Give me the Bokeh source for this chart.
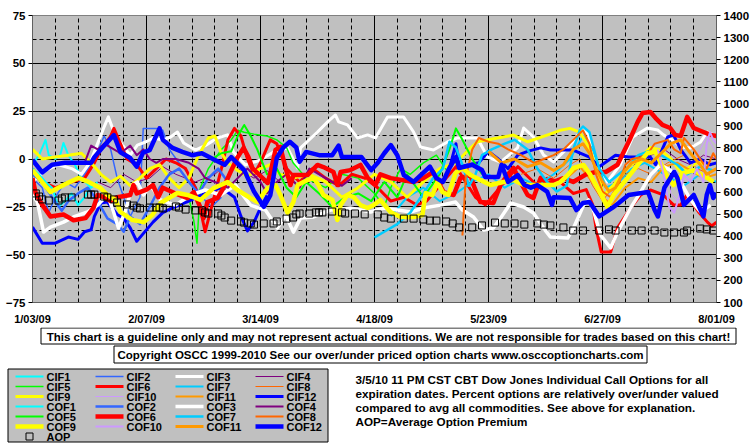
import math
from bokeh.plotting import figure
from bokeh.models import Range1d, LinearAxis, FixedTicker, ColumnDataSource
from bokeh.layouts import column
from bokeh.embed import file_html
from bokeh.resources import INLINE
from bokeh.core.properties import value

NaN = float("nan")

# ---------------- data ----------------
XTICK_DAYS = [0, 35, 70, 105, 140, 175, 210]          # days since 1/03/09
XTICK_LABELS = ["1/03/09", "2/07/09", "3/14/09", "4/18/09", "5/23/09", "6/27/09", "8/01/09"]
YTICKS_LEFT = [-75, -50, -25, 0, 25, 50, 75]
YTICKS_RIGHT = [100, 200, 300, 400, 500, 600, 700, 800, 900, 1000, 1100, 1200, 1300, 1400]

# (day, percent) pairs
CIF1 = [(0, -3), (2, 2), (3, 6), (4, 10), (5, 2), (7, 0), (8.5, 2), (9.5, 8.4), (11, 2), (13, -3), (15, -10), (18, -15), (20, -12)]
CIF2 = [(0, -10), (3, -15), (5, -28), (7, -20), (10, -12), (13, -15), (16, -8), (19, 0), (22, 12), (24, 5), (26, -10), (28, -20),
        (30, -30), (33, -20), (34, 16), (38, 16), (40, 15), (42, 5), (45, -2), (48, -8), (52, -20), (55, -25), (58, -20)]
CIF3 = [(0, -12), (4, -6), (8, -3), (12, -5), (15, -8), (17.8, -1.5), (21.8, 16), (23.3, 22), (24.6, 16), (26.4, 10), (30, 2), (32.2, 7.3),
        (34.7, 8.9), (37.2, 11), (39.9, 9.9), (42.4, 11.5), (44.5, 14.1), (46.4, 8.4), (50, 4.7), (53, 7), (56.8, 11), (59.9, 12.6),
        (61.7, 3.7), (65.4, -3.1), (70, -0.5), (74, 3.7), (78.3, 5.8), (81.4, -4.7), (82.3, 5.8), (87.5, 14.1), (90.6, 19.4), (93, 23),
        (94, 19.4), (96.7, 17.8), (99.8, 11), (102.9, 12.6), (105.3, 11), (109, 22), (113.9, 22), (117, 14.1), (119.1, 6.3), (123.1, 4.7),
        (127.4, 8.9), (130.5, 11), (136.6, 11), (139.7, 1), (143.7, -1.6), (148.9, 5.8), (150.8, 16.2), (153.8, 11.5), (156.9, 2.1),
        (160, -1.6), (162.1, 2.1), (164.3, 5.8), (169.2, 16.2), (170.7, 12.6), (172.2, 2.1), (176.5, -12), (180.4, -3.1), (184.3, 11.5),
        (188.8, 16.2), (191.9, 15.2), (193.7, 12.6), (196.5, 9.9), (199, 6.3), (202, 5.8), (205.1, 8.9), (207.2, 14.1), (209.1, 12.6)]
CIF4 = [(20, -12), (24, -15), (28, -8), (32, -12), (36, -10), (40, -4), (44, -8), (50, -12), (56, -8), (60, -2), (64, -6), (68, -10),
        (72, -6), (76, -12), (NaN, NaN), (182, -5), (186, -2), (190, 2), (194, 5), (198, 0), (202, -3), (206, 2), (210, 0)]
CIF5 = [(48, -20), (49.5, -32), (50.5, -44), (51.5, -15), (54, -5), (58, 5), (61, 10), (63, 15), (65, 14), (68, 13), (72, 12), (75, 10),
        (78, 6), (80, -2), (84, -10), (90, -15), (95, -8), (100, -10), (105, -18), (108, -25), (110, -15), (113, -5), (116, -8), (120, -2),
        (124, 2), (128, -8)]
CIF6 = [(0, -5), (3, -12), (7, -15), (12, -12), (16, -10), (19, -2), (21, 5), (24, 12), (25, 16), (27, 8), (29, 0), (32, -3), (35, -10),
        (38, -5), (41, 0), (44, -2), (47, -5), (50, -15), (52, -30), (53, -38), (55, -25), (58, -5), (60, 10), (62, 16), (64, 12), (66, 0),
        (68, -8), (70, -2), (73, 10), (75, 8), (78, -5), (82, -12), (86, -5), (90, -10), (94, -14), (98, -8), (102, -10), (106, -15),
        (110, -22), (114, -20), (118, -24), (121, -22), (124, -16), (127, -10), (130, -4), (133, -12), (136, -20), (139, -24), (142, -18),
        (146, -10), (149, -4), (152, -9), (155, -14), (158, -10), (162, -12), (166, -18), (170, -16), (172, -24), (173, -36), (174.6, -48.6),
        (177.5, -48.6), (179.6, -36), (183.6, -25.6), (186.7, -18.8), (189.7, -16.2), (193.7, -18.8), (196.8, -24), (199, -24),
        (200.9, -18.8), (204.5, -27.7), (207.2, -33), (208.5, -35), (210, -33)]
CIF7 = [(110, -30), (115, -20), (120, -15), (125, -22), (130, -18), (135, -12), (140, -8), (145, -15), (150, -10), (155, -14), (160, -8),
        (165, 0), (169, 12), (172, 5), (176, -15), (180, -12), (184, -5), (188, -2), (192, -6), (196, -10), (200, -14), (205, -8), (210, -12)]
CIF8 = [(150, -8), (155, -5), (160, -10), (165, -3), (168, 0), (172, -14), (175, -22), (178, -15), (182, -8), (186, -5), (190, -8),
        (195, -2), (200, 2), (204, -5), (208, -8)]
CIF9 = [(0, 5), (3, 0), (7, 1), (11, 2), (15, 3), (18, -2), (21, -8), (24, -12), (27, -9), (30, -14), (33, -10), (36, -5), (39, -3),
        (42, -10), (45, -15), (48, -10), (51, 2), (54, 11), (56, 12), (58, 3), (60, -2), (63, -6), (66, -9), (70, -5), (73, -3), (76, -8),
        (80, -10), (85, -8), (90, -12), (95, -20), (100, -15), (105, -8), (110, -12), (115, -20), (120, -12), (125, -5), (130, -2), (134, 5),
        (136.6, 9), (142.8, 11), (147.7, 12.5), (152, 9), (158, 12.5), (162, 15), (165, 16), (168, 14), (171, 5.8), (173.5, -6.8),
        (175.3, -19), (178.4, -13.6), (182, -6), (186.7, 1), (189.7, 6), (192.8, 4.7), (195.8, 0.5), (199, -6.8), (204, -2), (209, -3)]
CIF10 = [(193, 0), (195, -8), (196, -18), (198, -22), (200, -10), (203, -2), (205, 5), (207, 12), (209, 6), (210, 3)]
CIF11 = [(160, -14), (164, -10), (168, -4), (172, -12), (175, -20), (178, -24), (182, -15), (186, -10), (190, -12), (194, -4), (198, -2),
         (202, -6), (206, -10), (210, -8)]
CIF12 = [(0, -35.6), (3, -44), (7, -44), (11, -40.8), (14, -42), (16, -38), (18, -37), (19, -30), (21, -23), (23, -22.5), (26, -29),
         (28, -31), (30, -36), (32, -43), (34, -39), (37, -33), (40, -28), (43, -25.6), (48, -22), (53, -18), (58, -15), (62, -20), (64, -30),
         (66, -37.6), (68, -33), (70, -25.6), (72, -19), (NaN, NaN), (128, -5), (130, 8), (131, -4), (134, -3), (137, -2), (140, 4), (143, 0),
         (146, -5), (149, 2), (152, 4), (156, 5.8), (159, 4.7), (163, 4.7), (166, 4.7), (171, 1), (174, -4), (179, 2), (183, 1), (189.7, 1),
         (191.3, -3), (193, 3.7), (195, 11.5), (196.8, 12.6), (199, 5), (202, -2), (205, 0), (208, -3), (210, -2)]

COF1 = [(0, -5), (2, -8), (4, -12), (6, -15), (8, -25), (10, -22), (12, -18), (14, -24), (16, -20), (18, -14)]
COF2 = [(0, -8), (3, -12), (6, -20), (9, -27), (11, -22), (14, -18), (17, -15), (20, -22), (23, -31), (26, -34), (28, -38), (30, -30),
        (33, -34), (36, -25), (39, -15), (42, -8), (45, -5), (48, -12), (51, -18), (54, -10), (57, -5), (60, -12)]
COF3 = [(0, -18.8), (1.5, -22.5), (3.4, -38.2), (5.5, -35.6), (9.5, -33), (12.6, -30.3), (16.9, -27.7), (20, -24.1), (23, -18.8),
        (24.9, -27.7), (26.4, -36.1), (28.6, -26.7), (30.7, -13.6), (32.2, -12), (34.1, -18.8), (36.2, -13.6), (39.3, -21.4), (43.9, -24.1),
        (48.5, -18.8), (53.1, -16.2), (57.7, -18.8), (62.3, -13.6), (66.9, -24.1), (71.5, -26.7), (75.2, -36.1), (77.7, -29.3), (80.1, -38.2),
        (82.3, -30.9), (86.3, -30.3), (91.5, -26.7), (97.6, -25.6), (103.8, -27.7), (107.8, -25.6), (112.1, -26.7), (116.1, -27.7),
        (120, -25.6), (125.3, -24.1), (129.9, -22.5), (132, -26.7), (135.4, -30.3), (138.5, -37.1), (141.5, -36.1), (143.7, -30.9),
        (146.8, -23), (150.8, -25.1), (153.8, -28.2), (156.9, -36.1), (159, -40.8), (164.3, -41.3), (166.1, -36.1), (169.2, -24.1),
        (170.7, -21.4), (172.2, -26.7), (174.4, -39.7), (177.5, -46.5), (179.6, -38.2), (183.6, -25.6), (186.7, -17.3), (189.7, -8.4),
        (192.8, -3.1), (195.8, -5.8), (199, -12), (202, -21.4), (205.1, -27.7), (208.2, -24.1)]
COF4 = [(16, -2), (18, 7), (20, 5), (22, 8), (25, 5), (27, 3), (30, 7), (32, 2), (34, 5), (36, 0), (38, -2), (40, 0), (44, 0), (48, -2),
        (51, -5), (53, -10), (56, -12), (60, -15), (63, -10), (66, -5), (70, -12), (72, -18), (75, -12), (78, -8), (82, -15), (85, -5),
        (88, -8), (92, -12), (95, -14), (98, -10)]
COF5 = [(55, 0), (58, 3), (61, 4), (63, 12), (65, 17.8), (67, 12), (69, 5), (72, -8), (75, -5), (78, -15), (81, -20), (84, -12), (88, -18),
        (92, -25), (96, -20), (100, -18), (104, -22), (108, -12), (112, -20), (115, -8), (120, -20), (125, -8), (128, 5), (130, 16), (132, 10),
        (135, 0), (138, -8)]
COF6 = [(0, -10), (1, -18), (3, -24), (5.5, -30), (9.5, -29), (12.6, -32), (16.3, -30.9), (18.7, -25.6), (20, -18.8), (22, -20), (24, -22),
        (26, -20), (30, -18.8), (31, -13.6), (32, -18), (35, -16), (37, -13.6), (38.6, -20), (40, -15), (45, -18.8), (47.6, -20.4),
        (49.5, -17.3), (51.6, -25.6), (52.5, -31), (53.7, -22.5), (56.8, -20.4), (58.6, -15.2), (60.8, -6.8), (63, 1), (64.8, 5.8), (66.3, 1),
        (67.5, -4.7), (72.2, -12.6), (73.1, -6.8), (74.6, 4.7), (76.1, 6.3), (77.7, -4.7), (79.2, -13.6), (80.1, -8.4), (84.4, -8.4),
        (87.5, -3.1), (89.3, -4.2), (92.4, -6.8), (93.6, -13.6), (94.6, -6.8), (97.6, -5.8), (100.7, -3.1), (102.9, -9.9), (105.3, -13.6),
        (106.8, -8), (110, -10), (117, -12), (120, -10), (123, -6.8), (126.2, -17.3), (129.3, -18.8), (131.4, -9.9), (134.5, -8.4),
        (135.4, -13.6), (137.5, -22.5), (141.5, -23), (143.7, -13.6), (145.8, -8.4), (147.7, -4.7), (149.8, -12), (152, -18.8),
        (153.8, -20.4), (156, -9.9), (158, -12.6), (160, -12), (163, -10), (166, -12), (170, -8), (173, -6.8), (176, -6.8), (179.6, -3),
        (183.6, 11), (185.8, 19.4), (187.3, 24), (189.7, 24.6), (191.3, 21.4), (193.4, 17.8), (195.8, 16.2), (197.3, 12.6), (199, 12),
        (201, 22), (203, 16.2), (206, 14.1), (208.2, 12.6), (210, 12)]
COF7 = [(105, -41), (108, -38), (112, -34), (116, -28), (120, -18), (123, -10), (126, -5), (128, 9), (130, 6), (132, -3), (134, -14),
        (136, -8), (138, 2), (141, 5), (145, 8), (148, 10), (152, 5), (155, -5), (158, -12), (161, -17), (164, -14), (166, 5), (168, 15),
        (169, 17), (171, 14), (174, -5), (177, -12), (180, -8), (183, -4), (186, 2), (189, 4), (192, 3), (195, 0), (198, -3), (201, -8),
        (205, -4), (209, -6)]
COF8 = [(132, -40), (133, -10), (135, 5), (137, 11), (140, 9), (143, 8), (146, 5), (150, 2), (154, -2), (157, 0), (160, 2), (163, 5),
        (166, 10), (169, 15), (171, 8), (173, -8), (175, -17), (177.5, -20), (180, -13), (182, -3), (184, 0), (187, 1), (189, 3), (191, 8),
        (195, 10), (197, 5), (199, 3), (200, 11), (203, 5), (207, -5), (209, 3), (210, 0)]
COF9 = [(0, -5.8), (5.5, -17.3), (10.7, -12.6), (14.1, -9.9), (17.2, -12), (20.9, -15.2), (23, -18.8), (25.5, -21.4), (27, -27.7),
        (30.7, -31.9), (34.1, -33), (36.8, -29.3), (39.3, -23), (44.5, -17.8), (47.6, -18.8), (51.6, -21.4), (55.6, -15.2), (59.9, -12),
        (62.9, -16.2), (66.9, -20.4), (69.1, -22.5), (70.6, -18.8), (72.2, -15.2), (74.6, -13.6), (76.1, -18.8), (78.3, -28.2), (80.1, -22.5),
        (81.4, -13.6), (84.4, -11), (86.3, -9.9), (87.8, -13.6), (89.3, -18.8), (92.1, -21.4), (93.6, -31.9), (94.6, -24.1), (96.7, -18.8),
        (98.6, -19.9), (100.7, -24.1), (102.9, -25.6), (104.7, -24.1), (106.8, -21.4), (109.9, -27.7), (113, -30.3), (117, -30.3),
        (119.7, -29.3), (120.7, -17.8), (122.8, -18.8), (124.3, -12), (125.9, -17.3), (127.7, -18.8), (129.9, -7.3), (132, -4.7),
        (134.5, -8.4), (137.5, -11), (140.6, -13.6), (144.6, -12), (147.7, -11), (150.8, -13.6), (156, -13.6), (160, -13.6), (162.1, -12),
        (164.3, -8.4), (166.1, -4.7), (169.2, -3.1), (171.3, -8.4), (173.5, -15.2), (176.5, -25.1), (178.4, -18.8), (182.7, -9.9),
        (185.8, -3.1), (188.8, 3.1), (191.3, 3.7), (193.4, -4.2), (195, -9.4), (196.8, -13.6), (199.9, -7.3), (203, -5.8), (207.2, -9.9),
        (209.1, -12)]
COF10 = [(192, 5), (194, -10), (195.5, -25), (197, -28), (198.5, -20), (200, -8), (202, -12), (204, -5), (206, -12), (207, 8), (208, 14),
         (209, 10), (210, 8)]
COF11 = [(140, 4), (144, -2), (148, 0), (152, -4), (156, -2), (160, -6), (163, -3), (166, 5), (169, 8), (171, 3), (173, -5), (175, -12),
         (177, -17), (179, -15), (181, -8), (184, -2), (187, 0), (190, -2), (193, 3), (196, 8), (199, 10), (202, 3), (205, -3), (207, -8),
         (210, -5)]
COF12 = [(0, -0.5), (3, -7), (6, -3), (10, -2), (18, -2), (19, 1), (22, 7), (25, 12.5), (27, 3.5), (30, 0.5), (32, -4), (34, 3.5),
         (36, 4.7), (39, 16), (40, 10), (43, 5.8), (46, 3.7), (49, 2), (52, 3), (56, -0.5), (59, -3), (61, 1), (65, -5.8), (68, -17),
         (71, -25), (73, -19), (75, 0.5), (77, 6), (79, 9), (81, 6), (82, -1.5), (84, 3.7), (88, 2), (92, 2), (94, 7), (95, 1), (101, 1),
         (104, -5.8), (106, -2), (108, 3), (110, 7.3), (112, 2), (114, -8.4), (117, -12), (122, -4), (124, -10), (126, -12), (128, -4.7),
         (130, 1), (131, -4.7), (135, -3), (138, -5.8), (139, -9.4), (143, -9.4), (144, -3), (146, -12), (149, -8.4), (151, -13.6),
         (153, -15), (155, -13.6), (158, -17), (159.5, -24), (160, -20), (165, -20.4), (167, -26.7), (169, -23), (171, -22.5), (174, -30),
         (178, -25.6), (180, -23), (183, -18.8), (187, -17.8), (189, -17.3), (191, -26.7), (192, -30), (194, -15), (197, -6.8), (198, -10),
         (200, -24), (203, -18.8), (206, -30), (207, -18.8), (208, -13.6), (209, -20.4), (210, -17.8)]

# Average option premium (right axis), (day, premium)
AOP = [(1, 594), (2, 580), (3, 567), (5, 562), (8, 562), (9, 571), (10, 576), (12, 576), (17, 589), (18, 589), (19, 589), (22, 580),
       (23, 576), (25, 567), (26, 553), (29, 544), (31, 539), (32, 530), (33, 526), (36, 530), (38, 530), (39, 530), (40, 526), (44, 535),
       (45, 530), (47, 521), (50, 517), (52, 517), (53, 508), (54, 503), (57, 503), (58, 494), (59, 485), (61, 471), (64, 467), (65, 462),
       (67, 458), (68, 453), (71, 458), (74, 458), (75, 467), (78, 480), (80, 485), (81, 499), (82, 503), (85, 503), (87, 508), (88, 508),
       (89, 508), (92, 512), (95, 508), (96, 503), (99, 503), (102, 499), (106, 499), (108, 485), (110, 480), (114, 480), (117, 480),
       (120, 476), (122, 471), (124, 471), (127, 467), (129, 458), (131, 440), (135, 440), (138, 449), (142, 462), (145, 458), (148, 458),
       (151, 453), (155, 458), (157, 453), (159, 449), (163, 440), (166, 426), (169, 426), (174, 426), (177, 431), (179, 426), (184, 426),
       (187, 426), (191, 426), (194, 417), (197, 417), (200, 417), (201, 426), (205, 435), (207, 431), (209, 426)]

SERIES_NAMES = ["CIF1", "CIF2", "CIF3", "CIF4", "CIF5", "CIF6", "CIF7", "CIF8", "CIF9", "CIF10", "CIF11", "CIF12",
                "COF1", "COF2", "COF3", "COF4", "COF5", "COF6", "COF7", "COF8", "COF9", "COF10", "COF11", "COF12"]
SERIES_DATA = [CIF1, CIF2, CIF3, CIF4, CIF5, CIF6, CIF7, CIF8, CIF9, CIF10, CIF11, CIF12,
               COF1, COF2, COF3, COF4, COF5, COF6, COF7, COF8, COF9, COF10, COF11, COF12]

NOTE1 = "This chart is a guideline only and may not represent actual conditions. We are not responsible for trades based on this chart!"
NOTE2 = "Copyright OSCC 1999-2010 See our over/under priced option charts www.osccoptioncharts.com"
DESC = ["3/5/10 11 PM CST CBT Dow Jones Individual Call Options for all",
        "expiration dates. Percent options are relatively over/under valued",
        "compared to avg all commodities. See above for explanation.",
        "AOP=Average Option Premium"]

# ---------------- styles ----------------
BASE_COLORS = ["#00FFFF", "#3366FF", "#FFFFFF", "#800080", "#00FF00", "#FF0000",
               "#00CCFF", "#FF6600", "#FFFF00", "#CC99FF", "#FF9900", "#0000FF"]
CIF_WIDTHS = [2, 1.5, 3, 1, 1.5, 3, 2, 1, 3, 1, 2, 3]
COF_WIDTHS = [2, 2.5, 3.5, 2, 2, 4.5, 2.5, 2, 4.5, 2, 3, 4.5]
COLORS = BASE_COLORS + BASE_COLORS
WIDTHS = CIF_WIDTHS + COF_WIDTHS

FONT = "Liberation Sans"

W = 753
H1 = 327
H2 = 117

# ---------------- main chart ----------------
p = figure(width=W, height=H1, x_range=Range1d(0, 210), y_range=Range1d(-75, 75),
           output_backend="svg", toolbar_location=None,
           min_border_left=32, min_border_right=W - 716, min_border_top=15, min_border_bottom=25)
p.frame_align = False
p.extra_y_ranges = {"aop": Range1d(100, 1400)}
p.background_fill_color = "#C0C0C0"
p.border_fill_color = "white"
p.outline_line_color = "#808080"

xt = FixedTicker(ticks=XTICK_DAYS, minor_ticks=list(range(0, 211, 7)))
yt = FixedTicker(ticks=YTICKS_LEFT, minor_ticks=[t + 12.5 for t in YTICKS_LEFT[:-1]])
p.xaxis.ticker = xt
p.xgrid.ticker = xt
p.yaxis.ticker = yt
p.ygrid.ticker = yt
p.xaxis.major_label_overrides = {d: lab for d, lab in zip(XTICK_DAYS, XTICK_LABELS)}

for g in (p.xgrid[0], p.ygrid[0]):
    g.grid_line_color = "black"
    g.grid_line_width = 1
    g.minor_grid_line_color = "black"
    g.minor_grid_line_width = 1
    g.minor_grid_line_dash = "4 3"

ra = LinearAxis(y_range_name="aop", ticker=FixedTicker(ticks=YTICKS_RIGHT))
p.add_layout(ra, "right")

for ax in (p.xaxis[0], p.yaxis[0], ra):
    ax.major_label_text_font = FONT
    ax.major_label_text_font_style = "bold"
    ax.major_label_text_font_size = "11.5px"
    ax.major_label_text_color = "black"
    ax.axis_line_color = "#606060"
    ax.major_tick_line_color = "black"
    ax.major_tick_in = 0
    ax.minor_tick_in = 0
    ax.minor_tick_out = 0
p.xaxis[0].major_label_text_font_size = "11px"
p.xaxis[0].major_tick_out = 0
p.xaxis[0].major_label_standoff = 10
p.yaxis[0].major_tick_out = 4
p.yaxis[0].major_label_standoff = 3
ra.major_tick_out = 4
ra.major_label_standoff = 3

for name, data, color, width in zip(SERIES_NAMES, SERIES_DATA, COLORS, WIDTHS):
    xs = [d for d, v in data]
    ys = [v for d, v in data]
    p.line(xs, ys, line_color=color, line_width=width, line_join="round")

p.scatter([d for d, v in AOP], [v for d, v in AOP], y_range_name="aop", marker="square", size=7,
          fill_color=None, line_color="black", line_width=1)

# ---------------- notes + legend panel ----------------
q = figure(width=W, height=H2, x_range=Range1d(0, W), y_range=Range1d(H2, 0),
           output_backend="svg", toolbar_location=None, min_border=0,
           x_axis_location=None, y_axis_location=None)
q.frame_align = False
q.grid.visible = False
q.outline_line_color = None
q.background_fill_color = "white"
q.border_fill_color = "white"

# frames: note box 1, note box 2, legend box
q.quad(left=[40.5, 113.5, 7.5], right=[735.5, 646.5, 327.5], top=[0.5, 18.5, 41.5], bottom=[16.5, 35.5, 114.5],
       fill_color=["white", "white", "#C0C0C0"], line_color="black", line_width=1)

tstyle = dict(text_font=value(FONT), text_font_style="bold", text_color="black", text_baseline="middle")
q.text(x=[388], y=[9], text=[NOTE1], text_align="center", text_font_size="11.5px", **tstyle)
q.text(x=[380], y=[27.5], text=[NOTE2], text_align="center", text_font_size="11.5px", **tstyle)
q.text(x=[355] * len(DESC), y=[52 + 14 * i for i in range(len(DESC))], text=DESC, text_align="left",
       text_font_size="11.7px", **tstyle)

# legend (4 columns, row-major)
LX0, LCOL, LY0, LROW, LGW = 15, 80, 49, 10, 28
x0s, x1s, ys, lxs = [], [], [], []
for i, name in enumerate(SERIES_NAMES):
    c, r = i % 4, i // 4
    x0s.append(LX0 + c * LCOL)
    x1s.append(LX0 + c * LCOL + LGW)
    ys.append(LY0 + r * LROW)
    lxs.append(LX0 + c * LCOL + LGW + 3)
seg = ColumnDataSource(dict(x0=x0s, x1=x1s, y=ys, color=COLORS, w=WIDTHS, lx=lxs, name=SERIES_NAMES))
q.segment(x0="x0", y0="y", x1="x1", y1="y", line_color="color", line_width="w", source=seg)
q.text(x="lx", y="y", text="name", source=seg, text_font_size="11px", **tstyle)
aop_row = len(SERIES_NAMES) // 4
q.scatter([LX0 + LGW / 2], [LY0 + aop_row * LROW], marker="square", size=7, fill_color=None, line_color="black")
q.text([LX0 + LGW + 3], [LY0 + aop_row * LROW], text=["AOP"], text_font_size="11px", **tstyle)

layout = column(p, q, spacing=0)
open("out.html", "w").write(file_html(layout, INLINE))
